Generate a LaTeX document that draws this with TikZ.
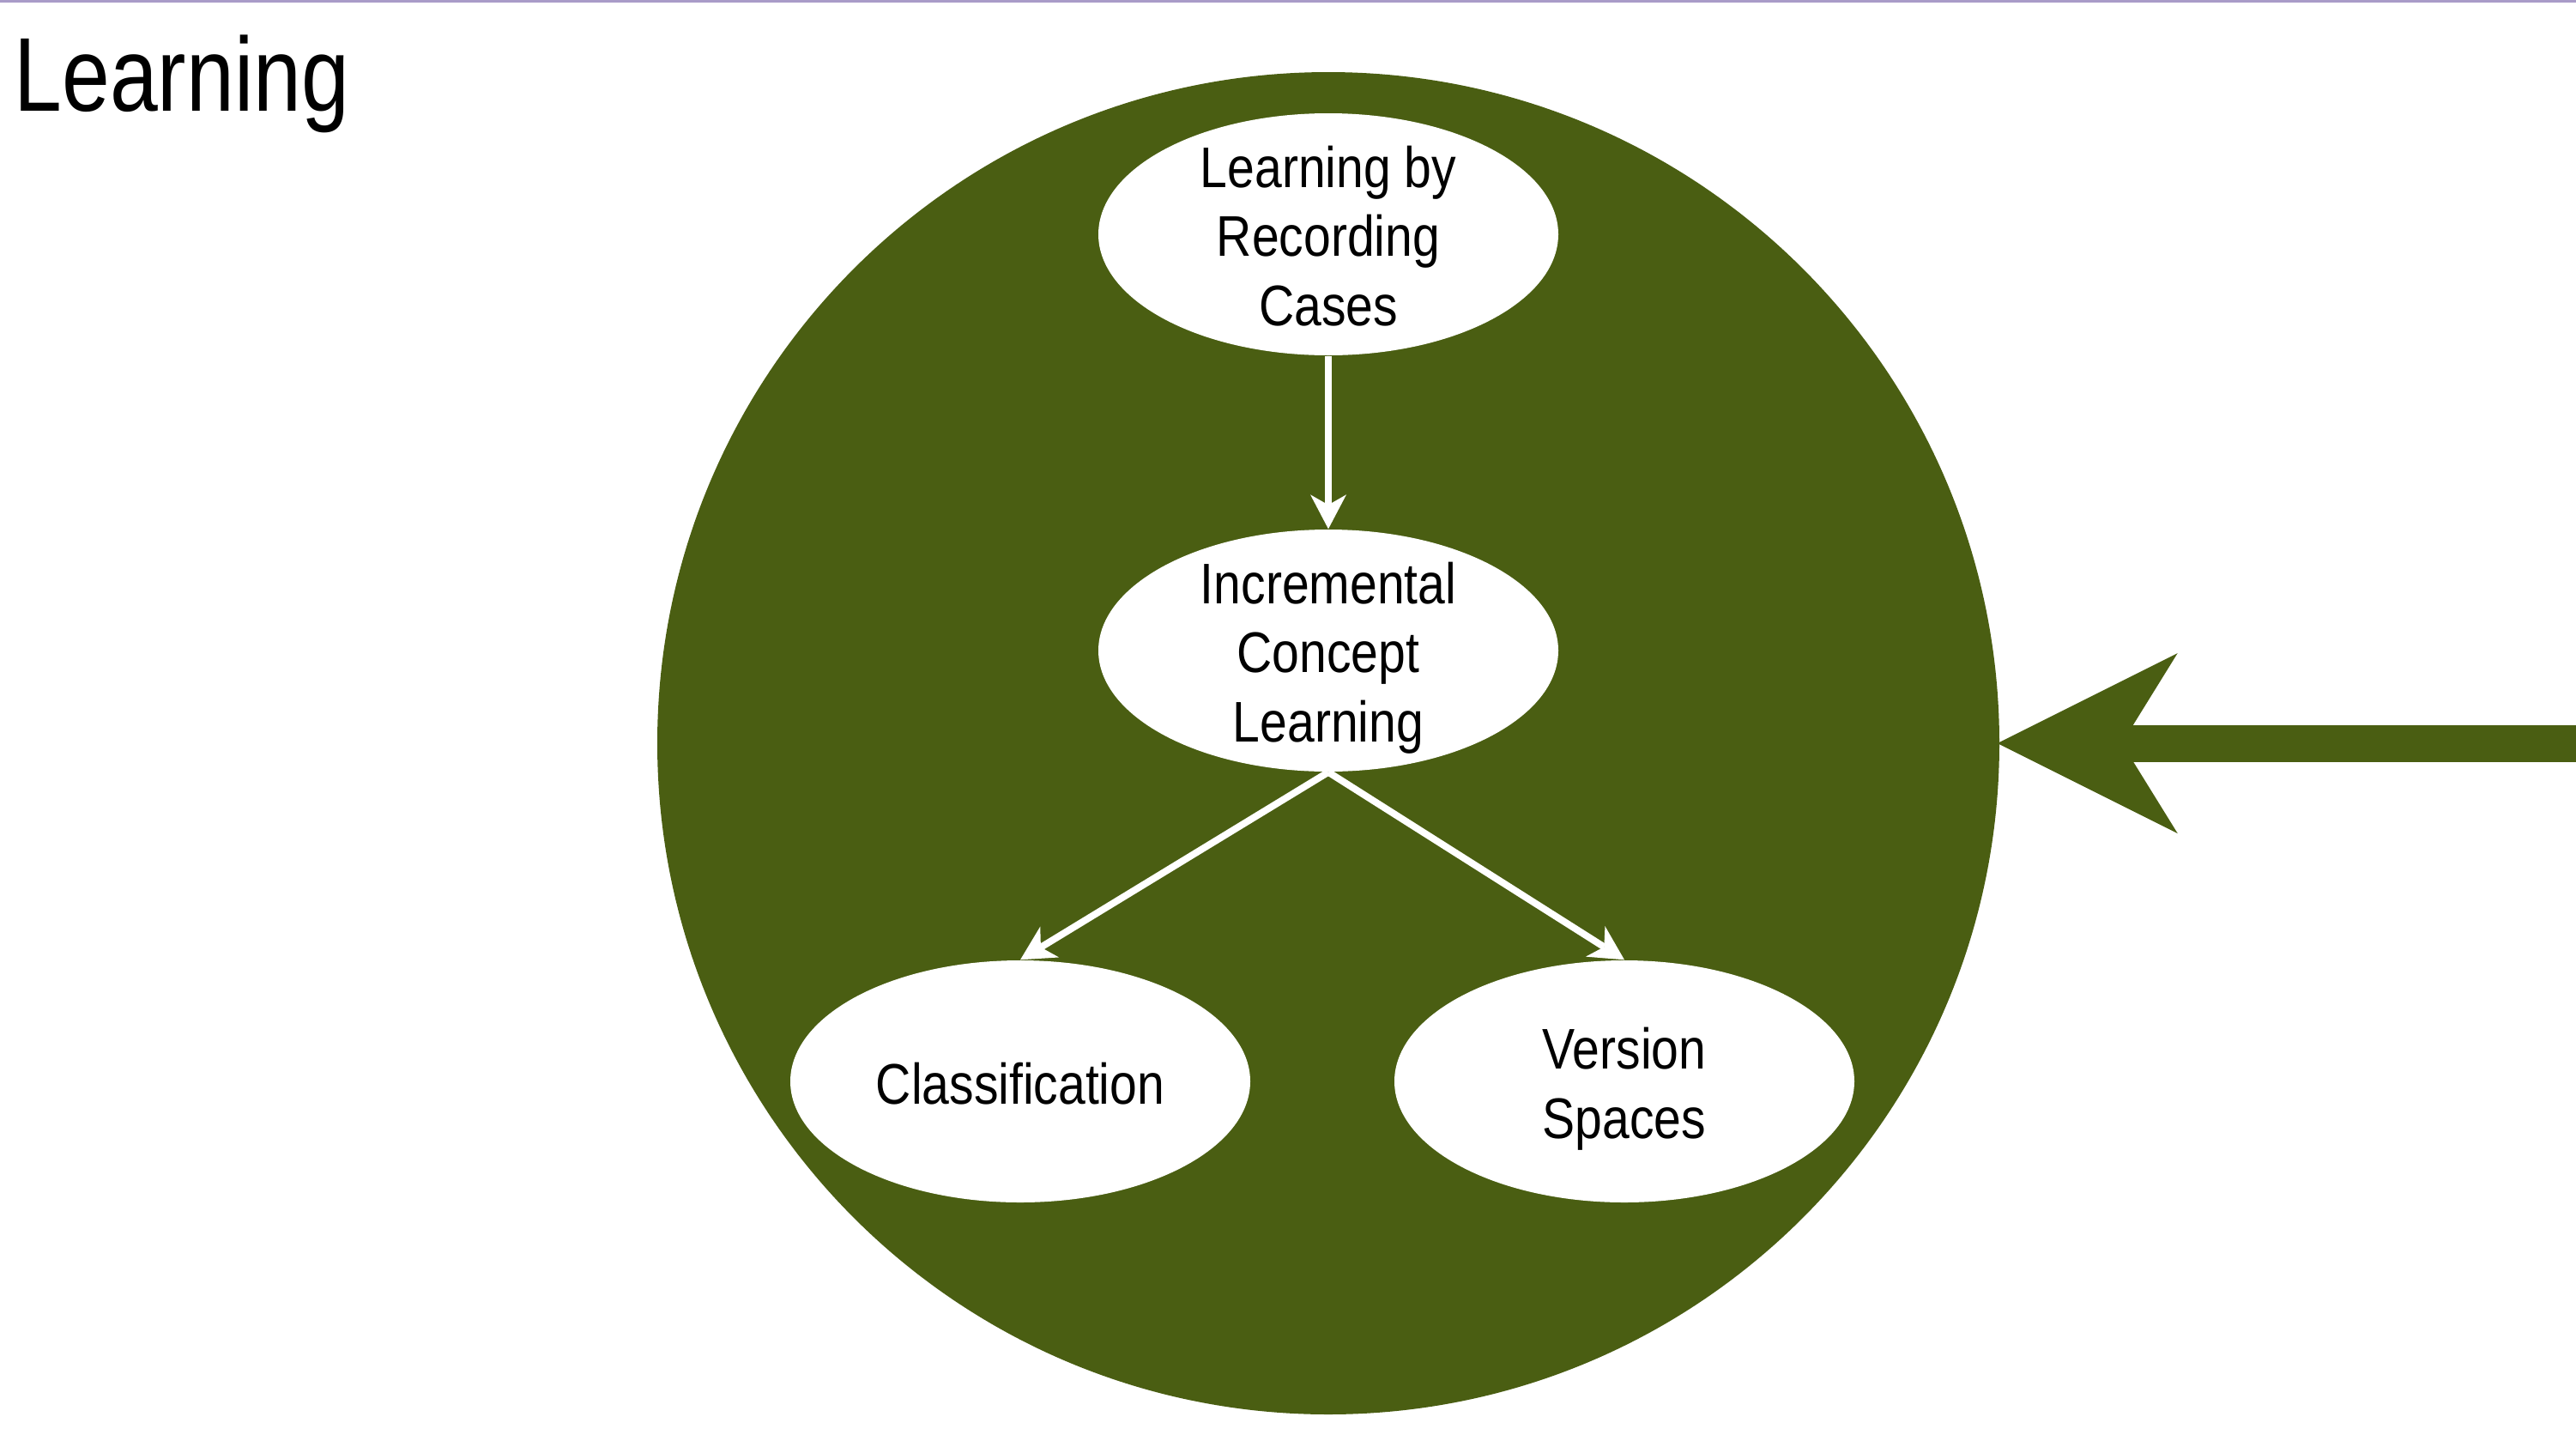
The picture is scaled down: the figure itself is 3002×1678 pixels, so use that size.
\documentclass[tikz,border=0pt]{standalone}
\usepackage{fontspec}
\setmainfont{Liberation Sans}[FakeStretch=0.82]
\newfontfamily\bubfont{Liberation Sans}[FakeStretch=0.855]
\usetikzlibrary{arrows.meta,shapes.geometric}
\definecolor{leafgreen}{RGB}{74,94,18}
\definecolor{topline}{RGB}{169,155,200}
\newcommand\bubtext[1]{\smash{\raisebox{-2.5mm}{\begin{tabular}{@{}c@{}}#1\end{tabular}}}}
\begin{document}
\begin{tikzpicture}[x=0.1mm,y=-0.1mm,
  bubble/.style={ellipse, fill=white, minimum width=53.6mm, minimum height=28.2mm,
    inner sep=0pt, font=\bubfont\fontsize{19}{23}\selectfont},
  link/.style={draw=white, line width=0.8mm,
    -{Stealth[length=4mm,width=4.2mm,inset=1.2mm,line width=0pt]}},
  bigarrow/.style={draw=leafgreen, line width=4.3mm,
    -{Stealth[length=21mm,width=21mm,inset=6.5mm,line width=0pt]}}]
\useasboundingbox (0,0) rectangle (3002,1678);
\fill[white] (0,0) rectangle (3002,1678);
\fill[topline] (0,0) rectangle (3002,3);
\node[anchor=base west, inner sep=0pt, font=\fontsize{34.8}{40}\selectfont] (title) at (16,129) {Learning};
\node[circle, fill=leafgreen, minimum size=156.4mm, inner sep=0pt] (big) at (1548,866) {};
\node[bubble] (rec) at (1548,273) {\bubtext{Learning by\\Recording\\Cases}};
\node[bubble] (inc) at (1548,758) {\bubtext{Incremental\\Concept\\Learning}};
\node[bubble] (cls) at (1189,1260) {\bubtext{Classification}};
\node[bubble] (ver) at (1893,1260) {\bubtext{Version\\Spaces}};
\draw[link] (rec) -- (inc);
\draw[link] (inc.south) -- (cls.north);
\draw[link] (inc.south) -- (ver.north);
\coordinate (src) at (3010,866);
\draw[bigarrow, shorten >=-0.3mm] (src) -- (big.east);
\end{tikzpicture}
\end{document}
